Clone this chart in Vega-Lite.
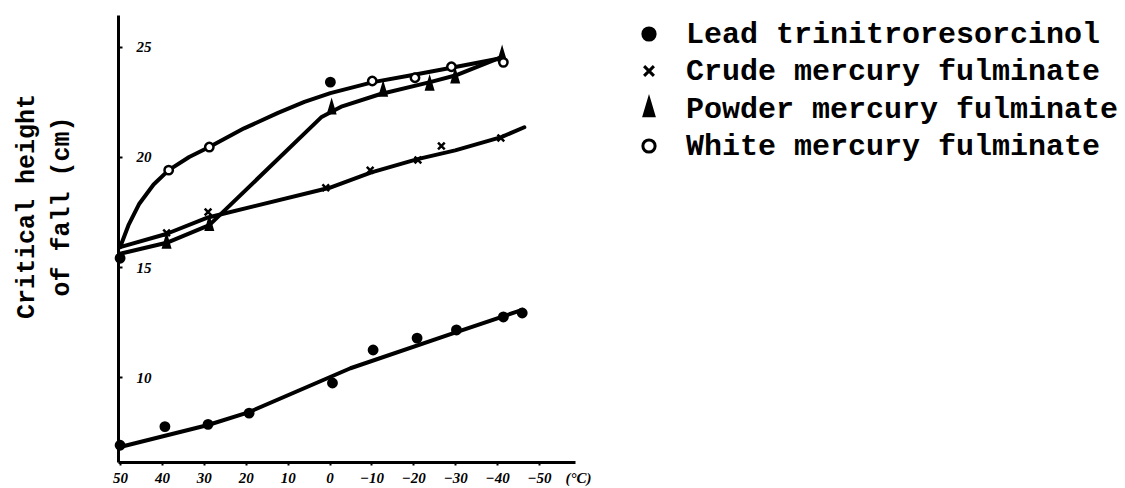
{
  "$schema": "https://vega.github.io/schema/vega-lite/v6.json",
  "width": 457,
  "height": 447,
  "autosize": {"type": "none"},
  "padding": {"left": 118, "top": 15, "right": 550, "bottom": 26},
  "background": "white",
  "config": {
    "view": {"stroke": null},
    "legend": {
      "orient": "none", "legendX": 516, "legendY": 4,
      "title": null,
      "labelFont": "Liberation Mono", "labelFontSize": 30, "labelFontWeight": "bold",
      "labelColor": "#000", "labelLimit": 700, "labelOffset": 22,
      "symbolSize": 150, "symbolStrokeWidth": 3,
      "rowPadding": 7
    }
  },
  "datasets": {
    "curves": [
      {"series": "White mercury fulminate", "t": 50, "h": 15.9},
      {"series": "White mercury fulminate", "t": 48, "h": 16.9},
      {"series": "White mercury fulminate", "t": 45.5, "h": 17.85},
      {"series": "White mercury fulminate", "t": 42, "h": 18.75},
      {"series": "White mercury fulminate", "t": 38.4, "h": 19.4},
      {"series": "White mercury fulminate", "t": 33.5, "h": 20.0},
      {"series": "White mercury fulminate", "t": 28.7, "h": 20.45},
      {"series": "White mercury fulminate", "t": 20.4, "h": 21.3},
      {"series": "White mercury fulminate", "t": 12.3, "h": 22.0},
      {"series": "White mercury fulminate", "t": 6, "h": 22.5},
      {"series": "White mercury fulminate", "t": -0.2, "h": 22.9},
      {"series": "White mercury fulminate", "t": -10.4, "h": 23.4},
      {"series": "White mercury fulminate", "t": -19.2, "h": 23.7},
      {"series": "White mercury fulminate", "t": -29.1, "h": 24.05},
      {"series": "White mercury fulminate", "t": -41.2, "h": 24.5},
      {"series": "Powder mercury fulminate", "t": 50, "h": 15.6},
      {"series": "Powder mercury fulminate", "t": 38.9, "h": 16.1},
      {"series": "Powder mercury fulminate", "t": 28.7, "h": 16.9},
      {"series": "Powder mercury fulminate", "t": 2, "h": 21.8},
      {"series": "Powder mercury fulminate", "t": -3, "h": 22.3},
      {"series": "Powder mercury fulminate", "t": -12, "h": 22.85},
      {"series": "Powder mercury fulminate", "t": -24, "h": 23.4},
      {"series": "Powder mercury fulminate", "t": -30, "h": 23.7},
      {"series": "Powder mercury fulminate", "t": -41.2, "h": 24.55},
      {"series": "Crude mercury fulminate", "t": 50, "h": 15.9},
      {"series": "Crude mercury fulminate", "t": 39, "h": 16.5},
      {"series": "Crude mercury fulminate", "t": 29, "h": 17.25},
      {"series": "Crude mercury fulminate", "t": 0, "h": 18.6},
      {"series": "Crude mercury fulminate", "t": -10, "h": 19.3},
      {"series": "Crude mercury fulminate", "t": -21, "h": 19.9},
      {"series": "Crude mercury fulminate", "t": -30, "h": 20.3},
      {"series": "Crude mercury fulminate", "t": -41, "h": 20.9},
      {"series": "Crude mercury fulminate", "t": -46.5, "h": 21.35},
      {"series": "Lead trinitroresorcinol", "t": 50, "h": 6.82},
      {"series": "Lead trinitroresorcinol", "t": 29, "h": 7.82},
      {"series": "Lead trinitroresorcinol", "t": 19.2, "h": 8.41},
      {"series": "Lead trinitroresorcinol", "t": -5, "h": 10.4},
      {"series": "Lead trinitroresorcinol", "t": -30.3, "h": 12.04},
      {"series": "Lead trinitroresorcinol", "t": -46, "h": 13.05}
    ],
    "points": [
      {"series": "Lead trinitroresorcinol", "t": 50, "h": 6.9},
      {"series": "Lead trinitroresorcinol", "t": 39.3, "h": 7.75},
      {"series": "Lead trinitroresorcinol", "t": 29, "h": 7.85},
      {"series": "Lead trinitroresorcinol", "t": 19.2, "h": 8.36},
      {"series": "Lead trinitroresorcinol", "t": -0.7, "h": 9.73},
      {"series": "Lead trinitroresorcinol", "t": -10.4, "h": 11.23},
      {"series": "Lead trinitroresorcinol", "t": -20.9, "h": 11.77},
      {"series": "Lead trinitroresorcinol", "t": -30.3, "h": 12.14},
      {"series": "Lead trinitroresorcinol", "t": -41.5, "h": 12.73},
      {"series": "Lead trinitroresorcinol", "t": -46, "h": 12.91},
      {"series": "Lead trinitroresorcinol", "t": 50, "h": 15.4},
      {"series": "Lead trinitroresorcinol", "t": -0.2, "h": 23.4},
      {"series": "Crude mercury fulminate", "t": 38.9, "h": 16.55},
      {"series": "Crude mercury fulminate", "t": 29, "h": 17.5},
      {"series": "Crude mercury fulminate", "t": 0.9, "h": 18.6},
      {"series": "Crude mercury fulminate", "t": -9.7, "h": 19.4},
      {"series": "Crude mercury fulminate", "t": -21.1, "h": 19.86},
      {"series": "Crude mercury fulminate", "t": -26.7, "h": 20.5},
      {"series": "Crude mercury fulminate", "t": -40.9, "h": 20.86},
      {"series": "Powder mercury fulminate", "t": 38.9, "h": 16.1},
      {"series": "Powder mercury fulminate", "t": 28.7, "h": 16.9},
      {"series": "Powder mercury fulminate", "t": -0.5, "h": 22.2},
      {"series": "Powder mercury fulminate", "t": -12.8, "h": 23.0},
      {"series": "Powder mercury fulminate", "t": -23.9, "h": 23.27},
      {"series": "Powder mercury fulminate", "t": -30, "h": 23.6},
      {"series": "Powder mercury fulminate", "t": -41.2, "h": 24.6},
      {"series": "White mercury fulminate", "t": 38.4, "h": 19.4},
      {"series": "White mercury fulminate", "t": 28.7, "h": 20.45},
      {"series": "White mercury fulminate", "t": -10.2, "h": 23.45},
      {"series": "White mercury fulminate", "t": -20.4, "h": 23.6},
      {"series": "White mercury fulminate", "t": -29.1, "h": 24.1},
      {"series": "White mercury fulminate", "t": -41.5, "h": 24.3}
    ]
  },
  "encoding": {
    "x": {
      "field": "t", "type": "quantitative",
      "scale": {"domain": [50.5, -58.6], "nice": false, "zero": false},
      "axis": {
        "values": [50, 40, 30, 20, 10, 0, -10, -20, -30, -40, -50],
        "grid": false,
        "domainColor": "#000", "domainWidth": 3,
        "tickColor": "#000", "tickSize": 3, "tickWidth": 2,
        "labelFont": "Liberation Serif", "labelFontSize": 15,
        "labelFontStyle": "italic", "labelFontWeight": "bold",
        "labelColor": "#000", "labelPadding": 5,
        "title": "(°C)",
        "titleFont": "Liberation Serif", "titleFontSize": 15,
        "titleFontStyle": "italic", "titleFontWeight": "bold",
        "titleColor": "#000",
        "titleX": 447, "titleY": 15, "titleAlign": "left", "titleBaseline": "middle", "titleAngle": 0
      }
    },
    "y": {
      "field": "h", "type": "quantitative",
      "scale": {"domain": [6.14, 26.45], "nice": false, "zero": false},
      "axis": {
        "values": [10, 15, 20, 25],
        "grid": false,
        "domainColor": "#000", "domainWidth": 3,
        "tickColor": "#000", "tickSize": -4, "tickWidth": 2,
        "labelFont": "Liberation Serif", "labelFontSize": 15,
        "labelFontStyle": "italic", "labelFontWeight": "bold",
        "labelColor": "#000", "labelAlign": "left", "labelPadding": -14,
        "title": ["Critical height", "of fall (cm)"],
        "titleFont": "Liberation Mono", "titleFontSize": 25, "titleFontWeight": "bold",
        "titleColor": "#000", "titleLineHeight": 35,
        "titleX": -93, "titleY": 191, "titleAngle": -90,
        "titleAlign": "center", "titleBaseline": "middle"
      }
    }
  },
  "layer": [
    {
      "data": {"name": "curves"},
      "mark": {"type": "line", "color": "#000", "strokeWidth": 4, "interpolate": "linear", "strokeJoin": "round", "strokeCap": "round"},
      "encoding": {"detail": {"field": "series", "type": "nominal"}}
    },
    {
      "data": {"name": "points"},
      "mark": {"type": "point", "filled": true, "strokeWidth": 2.5, "size": 70, "opacity": 1},
      "encoding": {
        "shape": {
          "field": "series", "type": "nominal",
          "scale": {
            "domain": ["Lead trinitroresorcinol", "Crude mercury fulminate", "Powder mercury fulminate", "White mercury fulminate"],
            "range": ["circle", "M-0.8,-0.8L0.8,0.8M-0.8,0.8L0.8,-0.8", "M0,-1.6L0.8,1.1L-0.8,1.1Z", "circle"]
          }
        },
        "fill": {
          "field": "series", "type": "nominal",
          "scale": {
            "domain": ["Lead trinitroresorcinol", "Crude mercury fulminate", "Powder mercury fulminate", "White mercury fulminate"],
            "range": ["#000", "#000", "#000", "#fff"]
          }
        },
        "stroke": {
          "field": "series", "type": "nominal",
          "scale": {
            "domain": ["Lead trinitroresorcinol", "Crude mercury fulminate", "Powder mercury fulminate", "White mercury fulminate"],
            "range": ["#000", "#000", "#000", "#000"]
          }
        }
      }
    }
  ]
}
